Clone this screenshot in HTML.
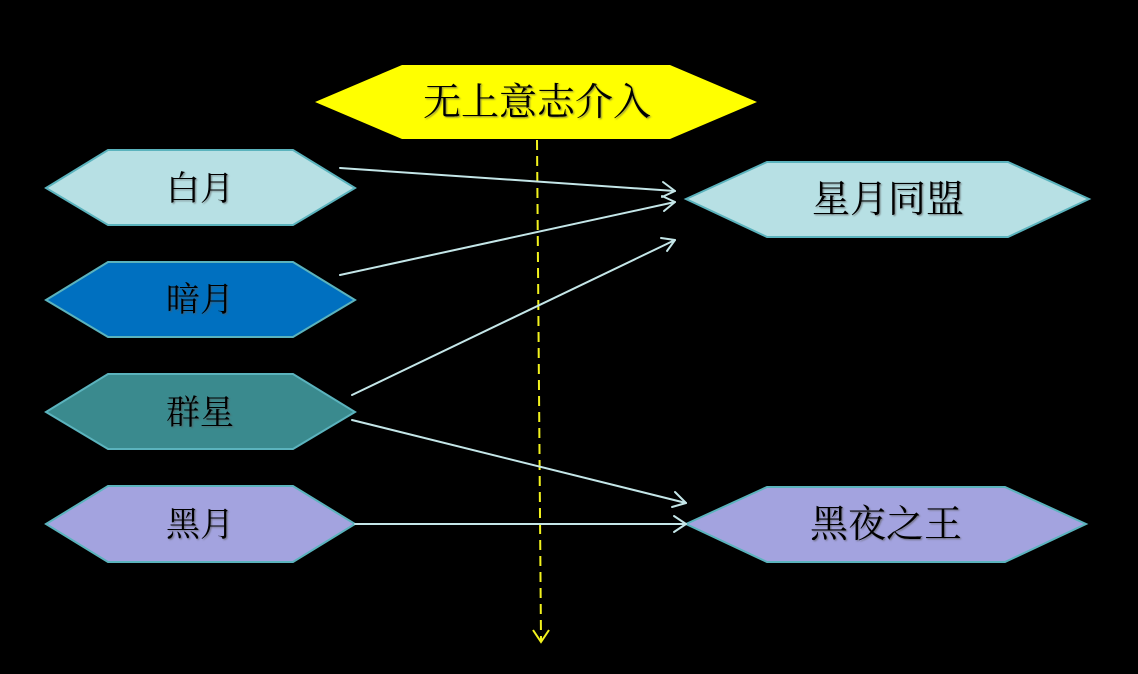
<!DOCTYPE html>
<html>
<head>
<meta charset="utf-8">
<style>
  html,body{margin:0;padding:0;background:#000;}
  body{width:1138px;height:674px;overflow:hidden;}
  svg{display:block;}
  text{font-family:"Liberation Serif","Noto Serif CJK SC","Noto Sans CJK SC",serif;fill:#000;text-anchor:middle;}
</style>
</head>
<body>
<svg width="1138" height="674" viewBox="0 0 1138 674" xmlns="http://www.w3.org/2000/svg">
  <defs>
    <filter id="sh" x="-10%" y="-10%" width="130%" height="130%">
      <feDropShadow dx="1.2" dy="1.2" stdDeviation="0.8" flood-color="#555" flood-opacity="0.6"/>
    </filter>
  </defs>
  <rect width="1138" height="674" fill="#000"/>

  <!-- yellow dashed line -->
  <line x1="537" y1="140" x2="541" y2="640" stroke="#f2f21e" stroke-width="2" stroke-dasharray="10 6"/>
  <polyline points="533,630 541,642 549,630" fill="none" stroke="#f2f21e" stroke-width="2"/>

  <!-- Top yellow hexagon -->
  <polygon points="315,102 402,65 670,65 757,102 670,139 402,139" fill="#ffff00"/>
  <text x="537" y="115" font-size="38" filter="url(#sh)">无上意志介入</text>

  <!-- Left nodes -->
  <polygon points="46,188 108,150 293,150 355,188 293,225 108,225" fill="#b7e0e4" stroke="#5bb3bd" stroke-width="2"/>
  <text x="200" y="200" font-size="34" filter="url(#sh)">白月</text>

  <polygon points="46,300 108,262 293,262 355,300 293,337 108,337" fill="#0070c0" stroke="#5bb3bd" stroke-width="2"/>
  <text x="200" y="311" font-size="34" filter="url(#sh)">暗月</text>

  <polygon points="46,412 108,374 293,374 355,412 293,449 108,449" fill="#3a8a8e" stroke="#5bb3bd" stroke-width="2"/>
  <text x="200" y="424" font-size="34" filter="url(#sh)">群星</text>

  <polygon points="46,524 108,486 293,486 355,524 293,562 108,562" fill="#a3a3df" stroke="#5bb3bd" stroke-width="2"/>
  <text x="200" y="536" font-size="34" filter="url(#sh)">黑月</text>

  <!-- Right nodes -->
  <polygon points="686,199 767,162 1008,162 1089,199 1008,237 767,237" fill="#b7e0e4" stroke="#5bb3bd" stroke-width="2"/>
  <text x="888" y="212" font-size="38" filter="url(#sh)">星月同盟</text>

  <polygon points="686,524 767,487 1005,487 1086,524 1005,562 767,562" fill="#a3a3df" stroke="#5bb3bd" stroke-width="2"/>
  <text x="886" y="537" font-size="38" filter="url(#sh)">黑夜之王</text>

  <!-- Connectors -->
  <g stroke="#c4e6e8" stroke-width="2" fill="none" stroke-linecap="round" stroke-linejoin="round">
    <line x1="340" y1="168" x2="675" y2="191"/>
    <polyline points="663,182 675,191 662,197"/>

    <line x1="340" y1="275" x2="675" y2="202"/>
    <polyline points="662,196 675,202 664,211"/>

    <line x1="352" y1="395" x2="675" y2="240"/>
    <polyline points="661,238 675,240 667,251"/>

    <line x1="352" y1="420" x2="686" y2="503"/>
    <polyline points="675,492 686,503 672,507"/>

    <line x1="355" y1="524" x2="686" y2="524"/>
    <polyline points="674,516 686,524 674,532"/>
  </g>
</svg>
</body>
</html>
